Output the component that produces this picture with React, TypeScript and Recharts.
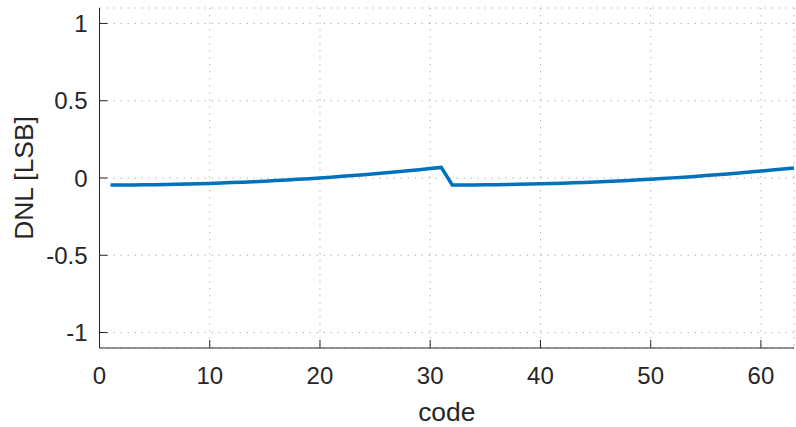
import React from 'react';
import { LineChart, Line, XAxis, YAxis, CartesianGrid, Label } from 'recharts';

const codes: number[] = [
  1, 2, 3, 4, 5, 6, 7, 8, 9, 10, 11, 12, 13, 14, 15, 16, 17, 18, 19, 20, 21, 22, 23, 24, 25, 26, 27, 28, 29, 30, 31,
  32, 33, 34, 35, 36, 37, 38, 39, 40, 41, 42, 43, 44, 45, 46, 47, 48, 49, 50, 51, 52, 53, 54, 55, 56, 57, 58, 59, 60, 61, 62, 63,
];

const dnlValues: number[] = [
  -0.045, -0.0449, -0.0445, -0.0439, -0.043, -0.0419, -0.0405, -0.0388, -0.0369, -0.0348,
  -0.0324, -0.0298, -0.0269, -0.0237, -0.0203, -0.0167, -0.0127, -0.0086, -0.0042, 0.0005,
  0.0054, 0.0106, 0.016, 0.0217, 0.0276, 0.0338, 0.0402, 0.0469, 0.0538, 0.061, 0.0684,
  -0.045, -0.0449, -0.0445, -0.044, -0.0432, -0.0421, -0.0409, -0.0394, -0.0377, -0.0357,
  -0.0336, -0.0311, -0.0285, -0.0257, -0.0226, -0.0192, -0.0157, -0.0119, -0.0079, -0.0037,
  0.0008, 0.0055, 0.0104, 0.0156, 0.021, 0.0266, 0.0324, 0.0385, 0.0448, 0.0513, 0.058, 0.065,
];

const xTicks: number[] = [0, 10, 20, 30, 40, 50, 60];
const yTicks: number[] = [-1, -0.5, 0, 0.5, 1];

const data = codes.map((c, i) => ({ code: c, dnl: dnlValues[i] }));

const FONT = '"Liberation Sans", Arial, Helvetica, sans-serif';
const TEXT = '#262626';

const XTick = (props: any) => {
  const { x, y, payload } = props;
  return (
    <g>
      <line x1={x} x2={x} y1={y} y2={y - 8} stroke={TEXT} strokeWidth={1} />
      <text x={x} y={y + 36} textAnchor="middle" fill={TEXT} fontSize={24} fontFamily={FONT}>
        {String(payload.value)}
      </text>
    </g>
  );
};

const YTick = (props: any) => {
  const { x, y, payload } = props;
  return (
    <g>
      <line x1={x + 12} x2={x + 20} y1={y} y2={y} stroke={TEXT} strokeWidth={1} />
      <text x={x} y={y} dy={8.5} textAnchor="end" fill={TEXT} fontSize={24} fontFamily={FONT}>
        {String(payload.value)}
      </text>
    </g>
  );
};

export default function App() {
  return (
    <div style={{ position: 'fixed', left: 0, top: 0, width: 796, height: 427, background: '#fff' }}>
      <LineChart
        width={796}
        height={427}
        data={data}
        margin={{ top: 8, right: 2, left: 0, bottom: 0 }}
        style={{ display: 'block' }}
      >
        <CartesianGrid stroke="#b8b8b8" strokeDasharray="1.5 5.5" />
        <XAxis
          dataKey="code"
          type="number"
          domain={[0, 63]}
          ticks={xTicks}
          allowDataOverflow
          height={79}
          tickSize={0}
          tickMargin={0}
          tick={<XTick />}
          axisLine={{ stroke: TEXT, strokeWidth: 1 }}
          interval={0}
        >
          <Label
            content={(p: any) => {
              const vb = p.viewBox;
              return (
                <text x={vb.x + vb.width / 2} y={421} textAnchor="middle" fill={TEXT} fontSize={26.4} fontFamily={FONT}>
                  code
                </text>
              );
            }}
          />
        </XAxis>
        <YAxis
          type="number"
          domain={[-1.1, 1.1]}
          ticks={yTicks}
          allowDataOverflow
          width={99.5}
          tickSize={0}
          tickMargin={12}
          tick={<YTick />}
          axisLine={{ stroke: TEXT, strokeWidth: 1 }}
          interval={0}
        >
          <Label
            content={(p: any) => {
              const vb = p.viewBox;
              const cx = 32.5;
              const cy = vb.y + vb.height / 2;
              return (
                <text
                  x={cx}
                  y={cy}
                  transform={`rotate(-90, ${cx}, ${cy})`}
                  textAnchor="middle"
                  fill={TEXT}
                  fontSize={26.4}
                  fontFamily={FONT}
                >
                  DNL [LSB]
                </text>
              );
            }}
          />
        </YAxis>
        <Line
          type="linear"
          dataKey="dnl"
          stroke="#0072BD"
          strokeWidth={3.5}
          dot={false}
          isAnimationActive={false}
        />
      </LineChart>
    </div>
  );
}
